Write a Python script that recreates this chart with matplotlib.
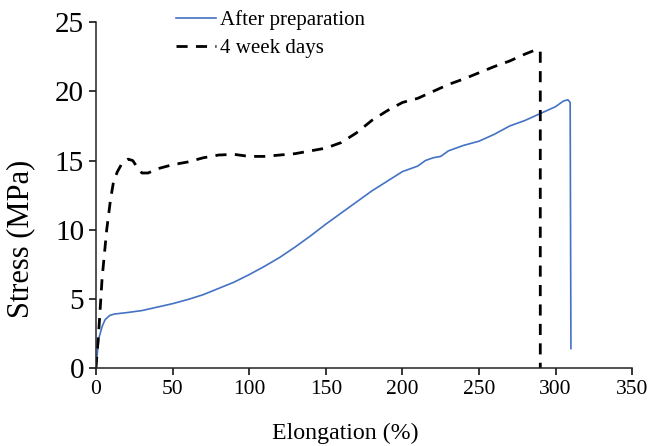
import matplotlib

matplotlib.use("Agg")

import matplotlib.pyplot as plt

# Stress-strain curves
after_elong = [0, 1, 2, 4, 6, 9, 12, 20, 30, 40, 50, 60, 70, 80, 90, 100, 110, 120,
               130, 140, 150, 160, 170, 180, 190, 200, 210, 215, 220, 225, 230, 240,
               250, 260, 270, 280, 290, 300, 305, 308, 309.5, 310]
after_stress = [0, 1.2, 2.2, 3.0, 3.5, 3.8, 3.9, 4.0, 4.15, 4.4, 4.65, 4.95, 5.3, 5.75,
                6.2, 6.75, 7.35, 8.0, 8.75, 9.55, 10.4, 11.2, 12.0, 12.8, 13.5, 14.2,
                14.6, 15.0, 15.2, 15.3, 15.7, 16.1, 16.4, 16.9, 17.5, 17.9, 18.4, 18.9,
                19.3, 19.4, 19.2, 1.4]

week4_elong = [0, 2, 4, 7, 9.5, 11.5, 14, 17, 21, 24, 27, 30, 34, 40, 50, 60, 70, 80, 90,
               100, 110, 120, 130, 140, 150, 160, 170, 180, 190, 200, 210, 220, 230,
               240, 250, 260, 270, 280, 288, 290, 290]
week4_stress = [0, 3, 6.5, 10, 12.2, 13.5, 14.2, 14.8, 15.1, 15.0, 14.5, 14.1, 14.1, 14.4,
                14.7, 14.9, 15.2, 15.4, 15.45, 15.3, 15.3, 15.4, 15.5, 15.7, 15.9, 16.3,
                17.0, 17.9, 18.6, 19.2, 19.5, 20.0, 20.5, 20.9, 21.35, 21.8, 22.2, 22.7,
                23.05, 22.9, 0]

x_ticks = [0, 50, 100, 150, 200, 250, 300, 350]
y_ticks = [0, 5, 10, 15, 20, 25]

plt.rcParams["font.family"] = ["Liberation Serif", "DejaVu Serif"]

fig = plt.figure(figsize=(6.62, 4.46), dpi=100)
ax = fig.add_axes([0.145, 0.175, 0.81, 0.775])

ax.plot(after_elong, after_stress, color="#4472C4", linewidth=1.2, label="After preparation")
ax.plot(week4_elong, week4_stress, color="black", linewidth=2.0, dashes=(4, 3),
        label="4 week days")

ax.set_xlim(0, 350)
ax.set_ylim(0, 25)
ax.set_xticks(x_ticks)
ax.set_yticks(y_ticks)
ax.tick_params(direction="out", length=5, width=1.1, colors="black")
ax.tick_params(axis="x", labelsize=15.5)
ax.tick_params(axis="y", labelsize=21)
for side in ("top", "right"):
    ax.spines[side].set_visible(False)
for side in ("left", "bottom"):
    ax.spines[side].set_linewidth(1.1)
    ax.spines[side].set_color("#222222")

ax.set_xlabel("Elongation (%)", fontsize=17.2)
ax.set_ylabel("Stress (MPa)", fontsize=22)
# the reference places both axis titles off-centre
ax.xaxis.set_label_coords(0.465, -0.16)
ax.yaxis.set_label_coords(-0.114, 0.373)

ax.legend(loc="upper left", bbox_to_anchor=(0.133, 1.06), frameon=False, fontsize=15,
          handlelength=1.92, handletextpad=0.2, labelspacing=0.42, borderaxespad=0)

fig.savefig("out.png", dpi=100)
plt.close(fig)
